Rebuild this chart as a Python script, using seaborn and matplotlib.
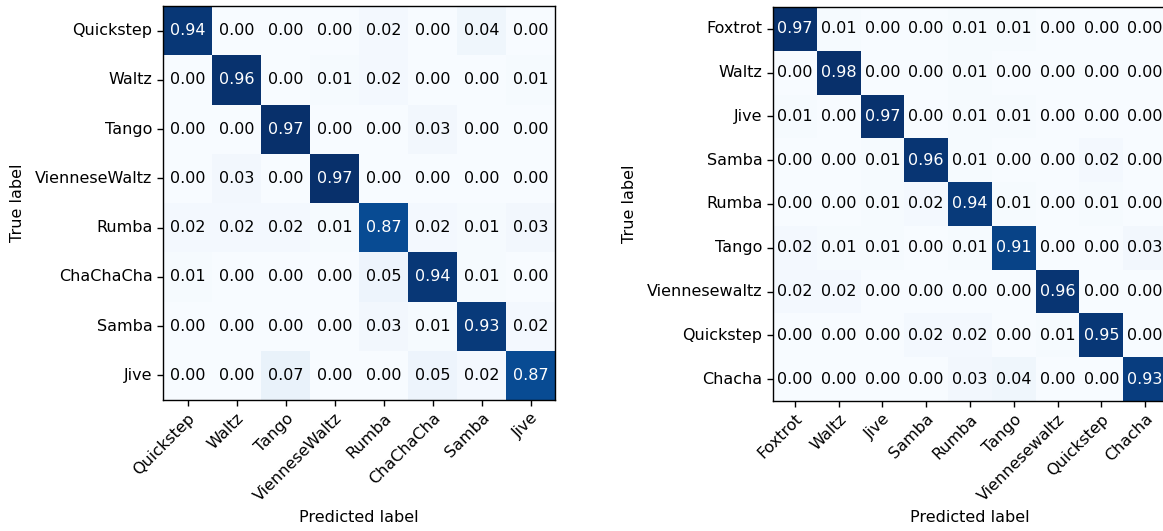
import numpy as np
import pandas as pd
import matplotlib
matplotlib.use("Agg")
import matplotlib.pyplot as plt
import seaborn as sns

labels_a = ["Quickstep", "Waltz", "Tango", "VienneseWaltz", "Rumba", "ChaChaCha", "Samba", "Jive"]
cm_a = [
    [0.94, 0.00, 0.00, 0.00, 0.02, 0.00, 0.04, 0.00],
    [0.00, 0.96, 0.00, 0.01, 0.02, 0.00, 0.00, 0.01],
    [0.00, 0.00, 0.97, 0.00, 0.00, 0.03, 0.00, 0.00],
    [0.00, 0.03, 0.00, 0.97, 0.00, 0.00, 0.00, 0.00],
    [0.02, 0.02, 0.02, 0.01, 0.87, 0.02, 0.01, 0.03],
    [0.01, 0.00, 0.00, 0.00, 0.05, 0.94, 0.01, 0.00],
    [0.00, 0.00, 0.00, 0.00, 0.03, 0.01, 0.93, 0.02],
    [0.00, 0.00, 0.07, 0.00, 0.00, 0.05, 0.02, 0.87],
]

labels_b = ["Foxtrot", "Waltz", "Jive", "Samba", "Rumba", "Tango", "Viennesewaltz", "Quickstep", "Chacha"]
cm_b = [
    [0.97, 0.01, 0.00, 0.00, 0.01, 0.01, 0.00, 0.00, 0.00],
    [0.00, 0.98, 0.00, 0.00, 0.01, 0.00, 0.00, 0.00, 0.00],
    [0.01, 0.00, 0.97, 0.00, 0.01, 0.01, 0.00, 0.00, 0.00],
    [0.00, 0.00, 0.01, 0.96, 0.01, 0.00, 0.00, 0.02, 0.00],
    [0.00, 0.00, 0.01, 0.02, 0.94, 0.01, 0.00, 0.01, 0.00],
    [0.02, 0.01, 0.01, 0.00, 0.01, 0.91, 0.00, 0.00, 0.03],
    [0.02, 0.02, 0.00, 0.00, 0.00, 0.00, 0.96, 0.00, 0.00],
    [0.00, 0.00, 0.00, 0.02, 0.02, 0.00, 0.01, 0.95, 0.00],
    [0.00, 0.00, 0.00, 0.00, 0.03, 0.04, 0.00, 0.00, 0.93],
]

plt.rcParams['font.family'] = ['DejaVu Sans']
W, H = 1163, 531
fig = plt.figure(figsize=(W / 100, H / 100), dpi=100)
FS = 11.5

def draw(rect, cm, labels, ylab_x):
    ax = fig.add_axes([rect[0] / W, 1 - (rect[1] + rect[3]) / H, rect[2] / W, rect[3] / H])
    df = pd.DataFrame(cm, index=labels, columns=labels)
    sns.heatmap(df, ax=ax, cmap="Blues", vmin=0, vmax=np.max(cm), cbar=False,
                annot=False, linewidths=0)
    arr = np.array(cm)
    thresh = arr.max() / 2
    for i in range(arr.shape[0]):
        for j in range(arr.shape[1]):
            ax.text(j + 0.5, i + 0.5, f"{arr[i, j]:.2f}", ha="center", va="center",
                    fontsize=FS, color="white" if arr[i, j] > thresh else "black")
    for s in ax.spines.values():
        s.set_visible(True)
        s.set_color("black")
        s.set_linewidth(1.0)
    ax.tick_params(axis="both", which="both", length=4, width=1, direction="out",
                   labelsize=FS, color="black")
    ax.set_xticklabels(labels, rotation=45, ha="right", rotation_mode="anchor")
    ax.set_yticklabels(labels, rotation=0)
    ax.set_xlabel("Predicted label", fontsize=FS)
    ax.set_ylabel("True label", fontsize=FS)
    # label positions (axes fraction)
    ax.xaxis.set_label_coords(0.5, (rect[1] + rect[3] - 517) / rect[3])
    ax.yaxis.set_label_coords((ylab_x - rect[0]) / rect[2], 0.5)
    ax.xaxis.label.set_va("center")
    ax.yaxis.label.set_va("center")
    return ax

draw((163, 6, 392, 394), cm_a, labels_a, 18)
draw((773, 7, 394, 394), cm_b, labels_b, 630)

fig.savefig("out.png", dpi=100)
